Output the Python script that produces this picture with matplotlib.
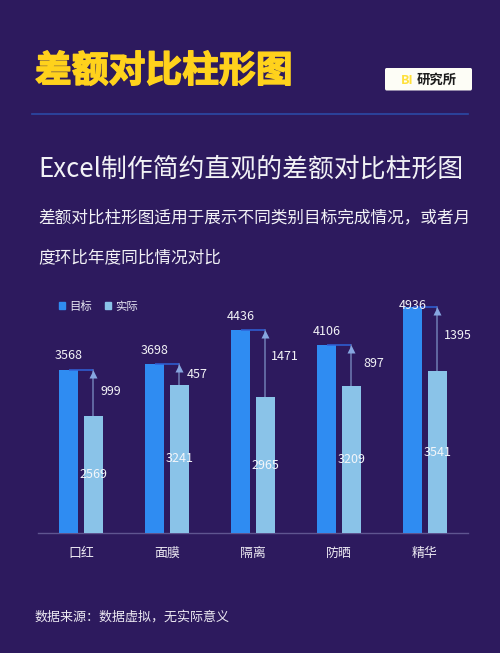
import matplotlib
matplotlib.use("Agg")
import matplotlib.pyplot as plt
from matplotlib.patches import FancyBboxPatch, Patch
import matplotlib.patheffects as pe
import numpy as np

plt.rcParams['font.family'] = ['Noto Sans CJK SC', 'DejaVu Sans']

categories = ['口红', '面膜', '隔离', '防晒', '精华']
target = [3568, 3698, 4436, 4106, 4936]
actual = [2569, 3241, 2965, 3209, 3541]
gaps = [999, 457, 1471, 897, 1395]

BG = '#2d1a5e'
W, H = 500, 653
fig = plt.figure(figsize=(W / 100, H / 100), dpi=100, facecolor=BG)


def ftext(x, y, s, **kw):
    kw.setdefault('va', 'center')
    return fig.text(x / W, 1 - y / H, s, **kw)


# Header
ftext(35, 71.5, '差额对比柱形图', color='#ffd21c', fontsize=26.5, fontweight='bold',
      path_effects=[pe.withStroke(linewidth=1.0, foreground='#ffd21c')])
fig.add_artist(plt.Line2D([32 / W, 468 / W], [1 - 114 / H] * 2, color='#2b4aa6', lw=1.2))
badge = FancyBboxPatch((385 / W, 1 - 90.5 / H), 87 / W, 22.5 / H,
                       boxstyle='round,pad=0,rounding_size=0.003',
                       transform=fig.transFigure, fc='#fdfdf6', ec='none')
fig.add_artist(badge)
ftext(401, 80, 'BI', color='#ffe03a', fontsize=9, fontweight='bold')
ftext(417, 80, '研究所', color='#1c1c1c', fontsize=9.6, fontweight='bold')

ftext(38, 169, 'Excel制作简约直观的差额对比柱形图', color='#f2f2f6', fontsize=18.6)
ftext(38.5, 218, '差额对比柱形图适用于展示不同类别目标完成情况，或者月', color='#f2f2f6', fontsize=12)
ftext(38.5, 258, '度环比年度同比情况对比', color='#f2f2f6', fontsize=12)
ftext(35, 617, '数据来源：数据虚拟，无实际意义', color='#ece9f2', fontsize=9.4)

# Chart area: baseline at y=533 px, x from 38 to 468 px
ax = fig.add_axes([38 / W, 1 - 533 / H, 430 / W, 238 / H])
ax.set_facecolor('none')
ax.set_xlim(-0.5, 4.5)
ax.set_ylim(0, 238 / 0.0457)

x = np.arange(len(categories))
off, bw = 0.142, 0.225
BLUE, LIGHT = '#2f8cf2', '#8ac3e8'
ax.bar(x - off, target, bw, color=BLUE, zorder=3)
ax.bar(x + off, actual, bw, color=LIGHT, zorder=3)

# label offsets in px, per category
target_dy = [14, 14, 14, 14, 2]
gap_dx = [18, 18, 20, 23, 21]
gap_dy = [1, 0, 7, 2, 4]

for i in range(len(categories)):
    xt, xa = x[i] - off, x[i] + off
    ax.plot([xt, xa], [target[i], target[i]], color='#2f62d8', lw=1.1, zorder=4,
            solid_capstyle='butt')
    ax.plot([xa, xa], [actual[i], target[i]], color='#6f7cb4', lw=1.1, zorder=2)
    ax.plot([xa], [target[i]], marker='^', ms=6, color='#86a6e0', mec='none', zorder=5,
            transform=ax.transData + matplotlib.transforms.ScaledTranslation(0, -4 / 100, fig.dpi_scale_trans))
    ax.annotate(str(target[i]), (xt, target[i]), xytext=(0, target_dy[i]),
                textcoords='offset pixels', ha='center', va='center', color='#f2f2f6',
                fontsize=9, zorder=6, annotation_clip=False)
    ax.text(xa, actual[i] / 2, str(actual[i]), ha='center', va='center', color='#f4f6fa',
            fontsize=9, zorder=6)
    ax.annotate(str(gaps[i]), (xa, (actual[i] + target[i]) / 2), xytext=(gap_dx[i], gap_dy[i]),
                textcoords='offset pixels', ha='center', va='center', color='#f2f2f6',
                fontsize=9, zorder=6, annotation_clip=False)

for side in ['top', 'right', 'left']:
    ax.spines[side].set_visible(False)
ax.spines['bottom'].set_color('#5f5590')
ax.spines['bottom'].set_linewidth(1.0)
ax.set_yticks([])
ax.set_xticks(x)
ax.set_xticklabels(categories, color='#ece9f2', fontsize=9.3)
ax.tick_params(axis='x', length=0, pad=10)

leg = ax.legend(handles=[Patch(color=BLUE, label='目标'), Patch(color=LIGHT, label='实际')],
                ncol=2, frameon=False, loc='center left',
                bbox_to_anchor=(55.5 / W, 1 - 306.5 / H), bbox_transform=fig.transFigure,
                fontsize=8.2, labelcolor='#e6e6f2', handlelength=0.57, handleheight=0.57,
                handletextpad=0.35, columnspacing=1.1, borderpad=0, borderaxespad=0.3)

fig.savefig('out.png', dpi=100, facecolor=BG)
